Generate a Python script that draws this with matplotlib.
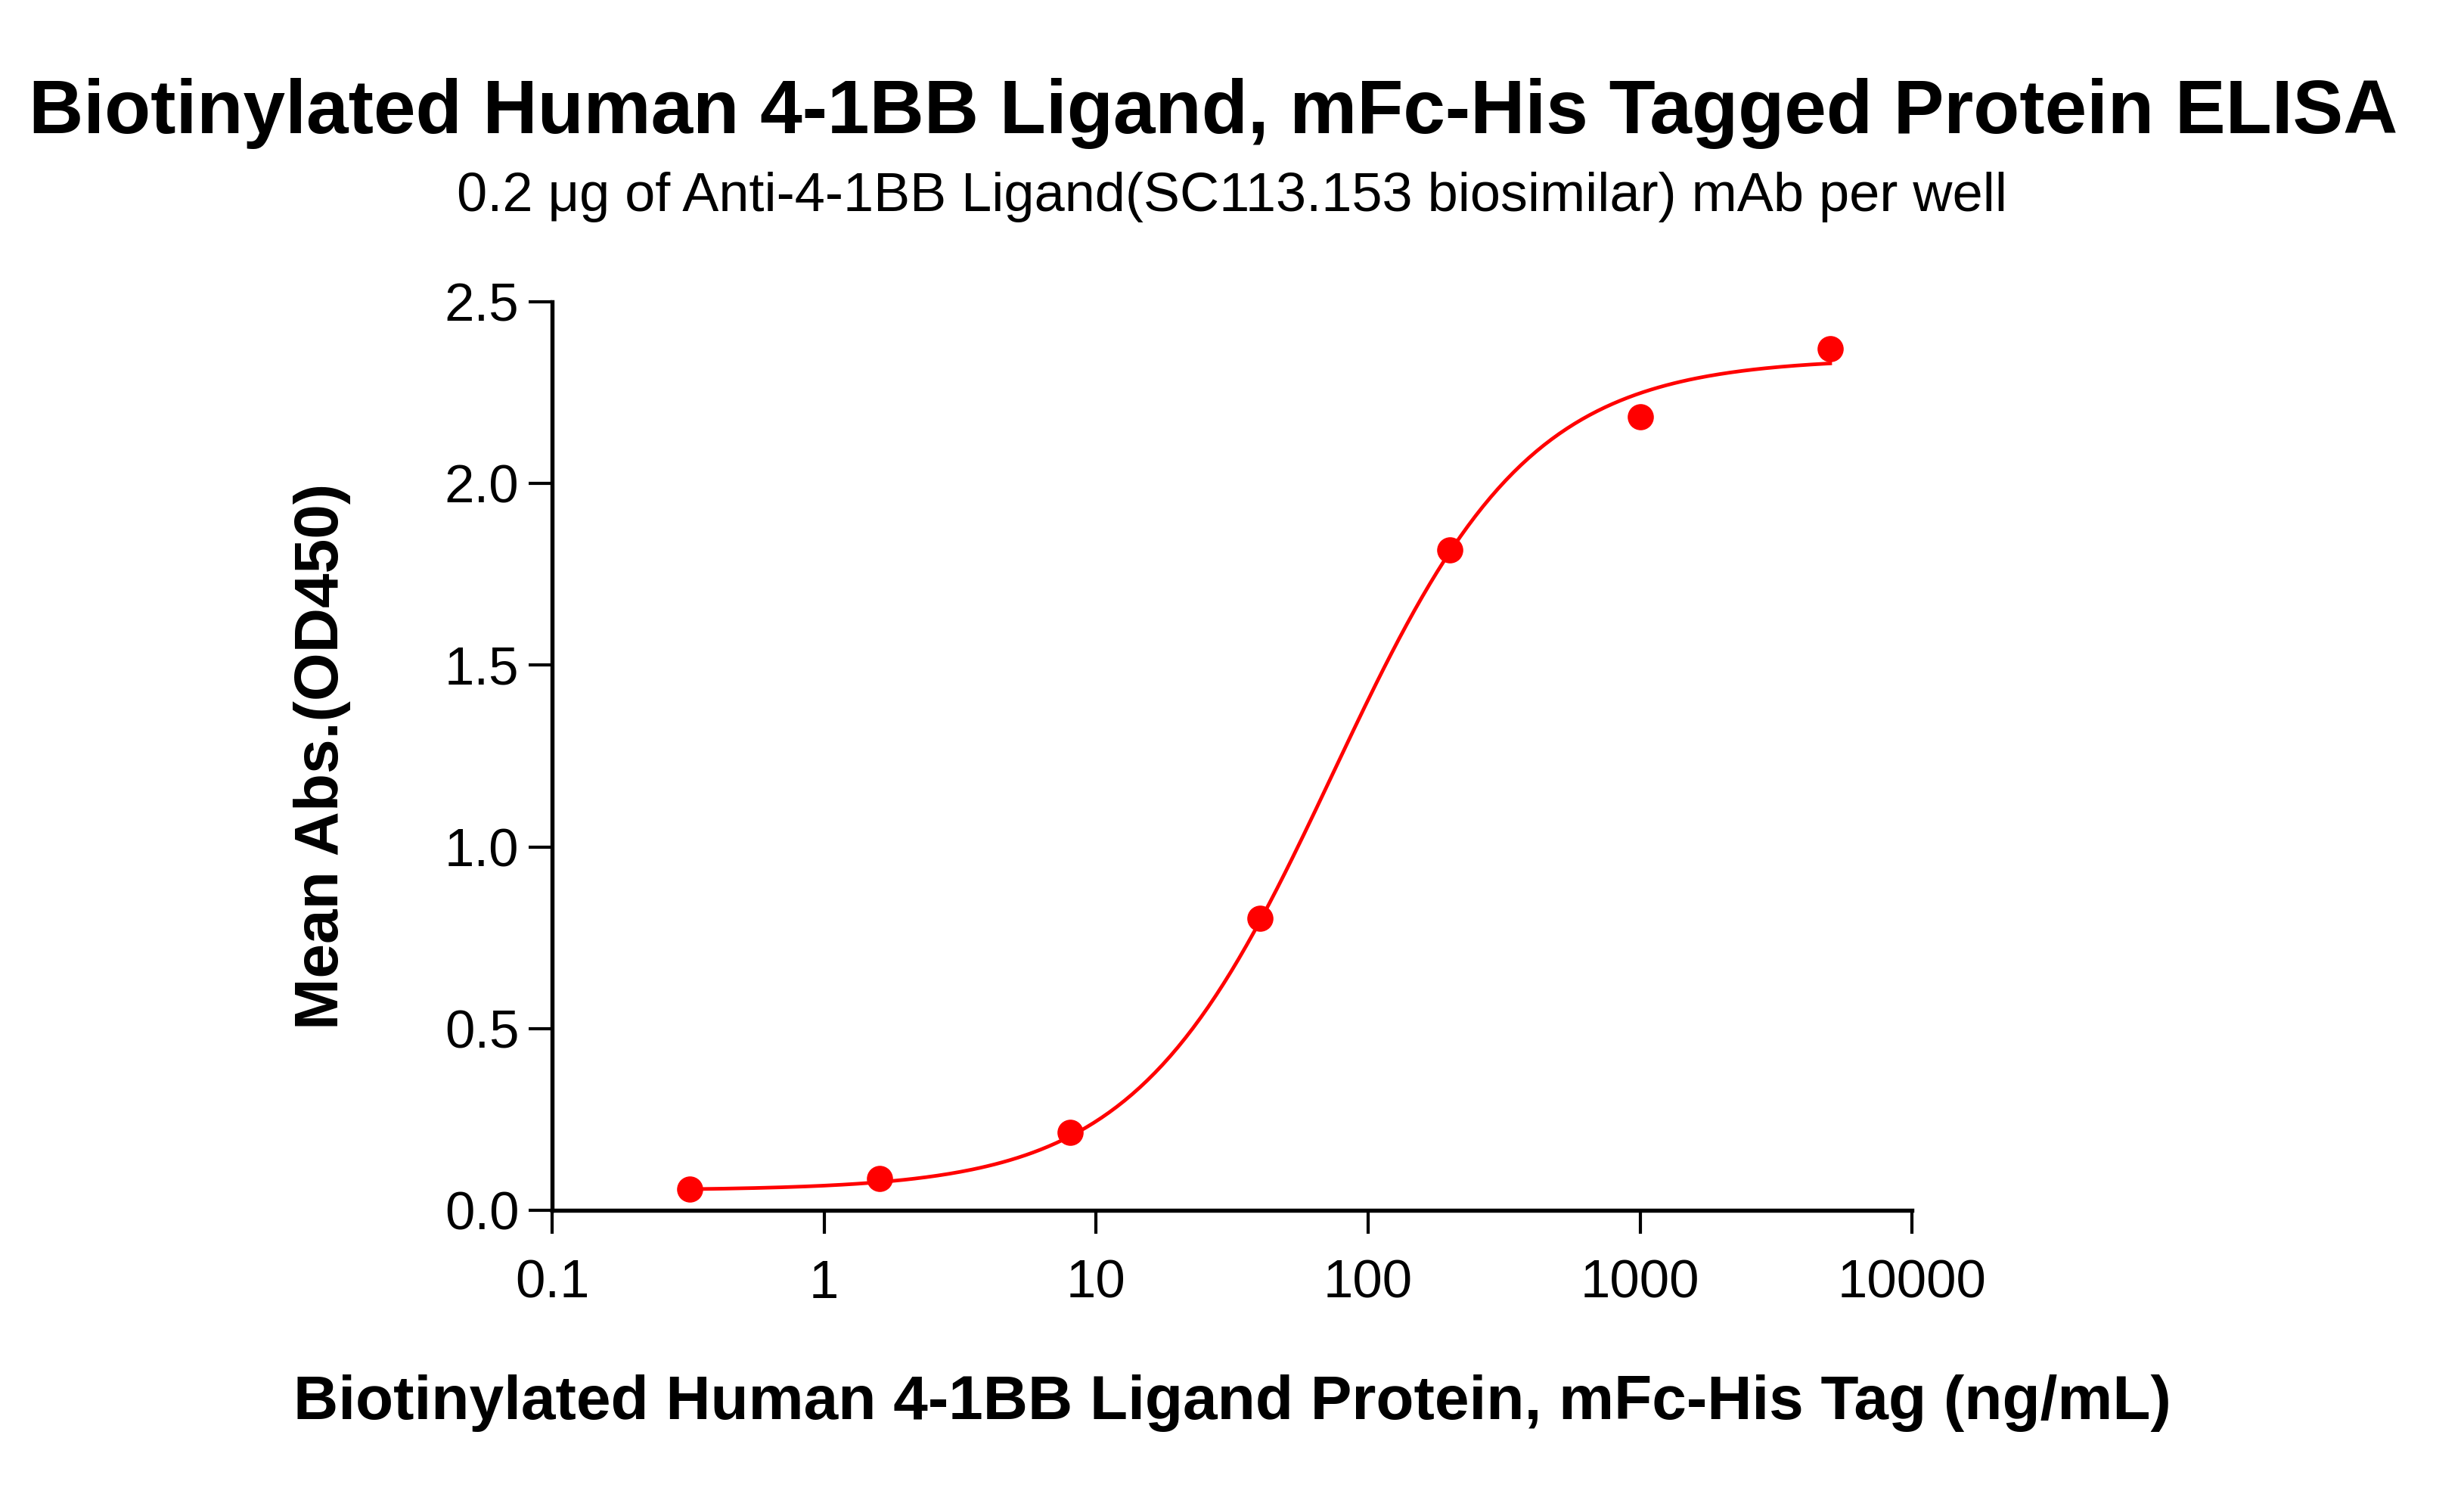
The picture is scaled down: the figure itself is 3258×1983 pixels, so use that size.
"""ELISA binding curve: Biotinylated Human 4-1BB Ligand, mFc-His."""
import numpy as np
import matplotlib
matplotlib.use("Agg")
import matplotlib.pyplot as plt
from matplotlib.ticker import FixedLocator, NullLocator, FixedFormatter

plt.rcParams["font.family"] = ["Liberation Sans", "DejaVu Sans"]

# measured points
conc = [0.32, 1.6, 8, 40, 200, 1000, 5000]          # ng/mL
od450 = [0.058, 0.088, 0.215, 0.804, 1.817, 2.184, 2.370]

# 4PL fit parameters
fit_bottom = 0.055
fit_top = 2.345
fit_ec50 = 74.0
fit_hill = 1.2

x_ticks = [0.1, 1, 10, 100, 1000, 10000]
x_ticklabels = ["0.1", "1", "10", "100", "1000", "10000"]
y_ticks = [0.0, 0.5, 1.0, 1.5, 2.0, 2.5]
y_ticklabels = ["0.0", "0.5", "1.0", "1.5", "2.0", "2.5"]

RED = "#ff0000"

fig = plt.figure(figsize=(3258 / 300, 1983 / 300), dpi=300)
ax = fig.add_axes([0.2241, 0.1931, 0.776 - 0.2241, 0.7988 - 0.1931])

# fitted curve
xs = np.logspace(np.log10(conc[0]), np.log10(conc[-1]), 300)
ys = fit_bottom + (fit_top - fit_bottom) / (1 + (fit_ec50 / xs) ** fit_hill)
ax.plot(xs, ys, color=RED, lw=1.15, zorder=2)
ax.plot(conc, od450, "o", color=RED, ms=8.3, mew=0, zorder=3, clip_on=False)

ax.set_xscale("log")
ax.set_xlim(0.1, 10000)
ax.set_ylim(0, 2.5)
ax.xaxis.set_major_locator(FixedLocator(x_ticks))
ax.xaxis.set_major_formatter(FixedFormatter(x_ticklabels))
ax.xaxis.set_minor_locator(NullLocator())
ax.set_yticks(y_ticks)
ax.set_yticklabels(y_ticklabels)

for side in ("top", "right"):
    ax.spines[side].set_visible(False)
for side in ("left", "bottom"):
    ax.spines[side].set_linewidth(1.3)
ax.tick_params(direction="out", length=7.5, width=1.0, labelsize=17, colors="black")
ax.tick_params(axis="x", pad=8)
ax.tick_params(axis="y", pad=3)

fig.text(1604 / 3258, 1 - 150 / 1983, "Biotinylated Human 4-1BB Ligand, mFc-His Tagged Protein ELISA",
         ha="center", va="center", fontsize=24, fontweight="bold")
fig.text(0.5, 1 - 260 / 1983, "0.2 \u03bcg of Anti-4-1BB Ligand(SC113.153 biosimilar) mAb per well",
         ha="center", va="center", fontsize=17.3)
fig.text(0.5, 1 - 1855 / 1983, "Biotinylated Human 4-1BB Ligand Protein, mFc-His Tag (ng/mL)",
         ha="center", va="center", fontsize=19.7, fontweight="bold")
fig.text(426 / 3258, 1 - 1000 / 1983, "Mean Abs.(OD450)", rotation=90,
         ha="center", va="center", fontsize=19.7, fontweight="bold")

fig.savefig("out.png", dpi=300, facecolor="white")
